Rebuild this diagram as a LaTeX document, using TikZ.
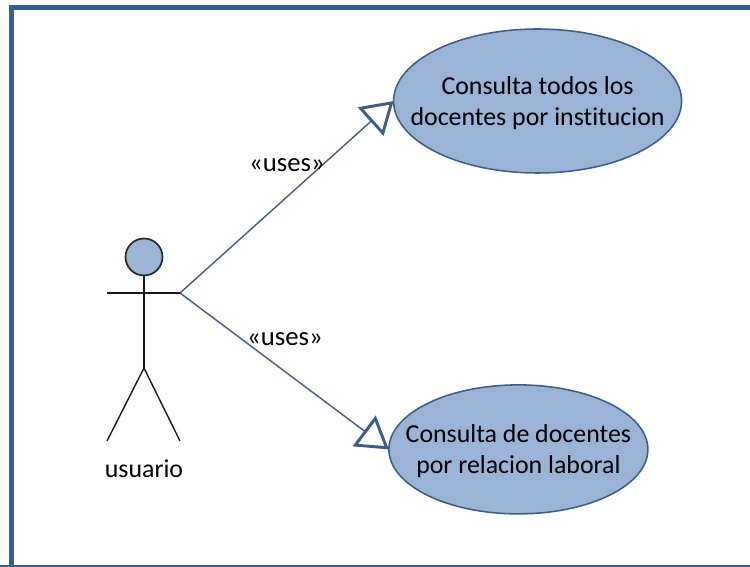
\documentclass[tikz,border=0pt]{standalone}
\usepackage{fontspec}
\setmainfont[Ligatures=NoCommon]{Carlito}
\usetikzlibrary{shapes.geometric}
\usetikzlibrary{arrows.meta}
\definecolor{framecol}{HTML}{365F91}
\definecolor{linecol}{HTML}{3F5D85}
\definecolor{fillcol}{HTML}{9AB4D6}

\tikzset{
    usecase/.style={ellipse, draw=linecol, fill=fillcol, line width=1.1pt, inner sep=0pt, outer sep=0pt},
    casetxt/.style={align=center, inner sep=0pt, yshift=-0.05cm, font=\fontsize{18.4}{22}\selectfont},
    uses/.style={draw=linecol, line width=1pt, -{Triangle[open, fill=white, length=22pt, width=27pt, line width=2.1pt]}},
    actor/.style={line width=1pt, black!90},
    txt/.style={font=\fontsize{18.4}{22}\selectfont, inner sep=0pt},
    usestxt/.style={font=\fontsize{19}{22}\selectfont, inner sep=0pt}
}

\begin{document}
\begin{tikzpicture}
    \useasboundingbox (0,0) rectangle (18.75,14.175);

    % marco
    \draw[framecol, line width=3.6pt] (18.75,13.99) -- (0.2875,13.99) -- (0.2875,0);
    \draw[framecol, line width=1.5pt] (0,0.025) -- (18.75,0.025);

    % casos de uso
    \node[usecase, minimum width=7.2cm, minimum height=3.6cm, label={[casetxt]center:{Consulta todos los \\ docentes por institucion}}] (todos) at (13.44,11.65) {};
    \node[usecase, minimum width=6.475cm, minimum height=3.225cm, label={[casetxt]center:{Consulta de docentes \\ por relacion laboral}}] (laboral) at (12.96,2.94) {};

    % actor
    \node[circle, draw=black!85, fill=fillcol, line width=1.2pt, minimum size=0.925cm, inner sep=0pt, outer sep=0pt] (cabeza) at (3.6,7.75) {};
    \coordinate (manoizq) at (2.675,6.85);
    \coordinate (manoder) at (4.5,6.85);
    \coordinate (cadera) at (3.6,4.975);
    \coordinate (pieizq) at (2.675,3.15);
    \coordinate (pieder) at (4.5,3.15);
    \draw[actor] (cabeza) -- (cadera);
    \draw[actor] (manoizq) -- (manoder);
    \draw[actor] (pieizq) -- (cadera) -- (pieder);
    \node[txt] (usuario) at (3.6,2.45) {usuario};

    % relaciones
    \draw[uses] (manoder) -- (todos.west);
    \draw[uses] (manoder) -- (laboral.west);
    \node[usestxt] (usesa) at (7.175,10.05) {«uses»};
    \node[usestxt] (usesb) at (7.125,5.7) {«uses»};
\end{tikzpicture}
\end{document}
